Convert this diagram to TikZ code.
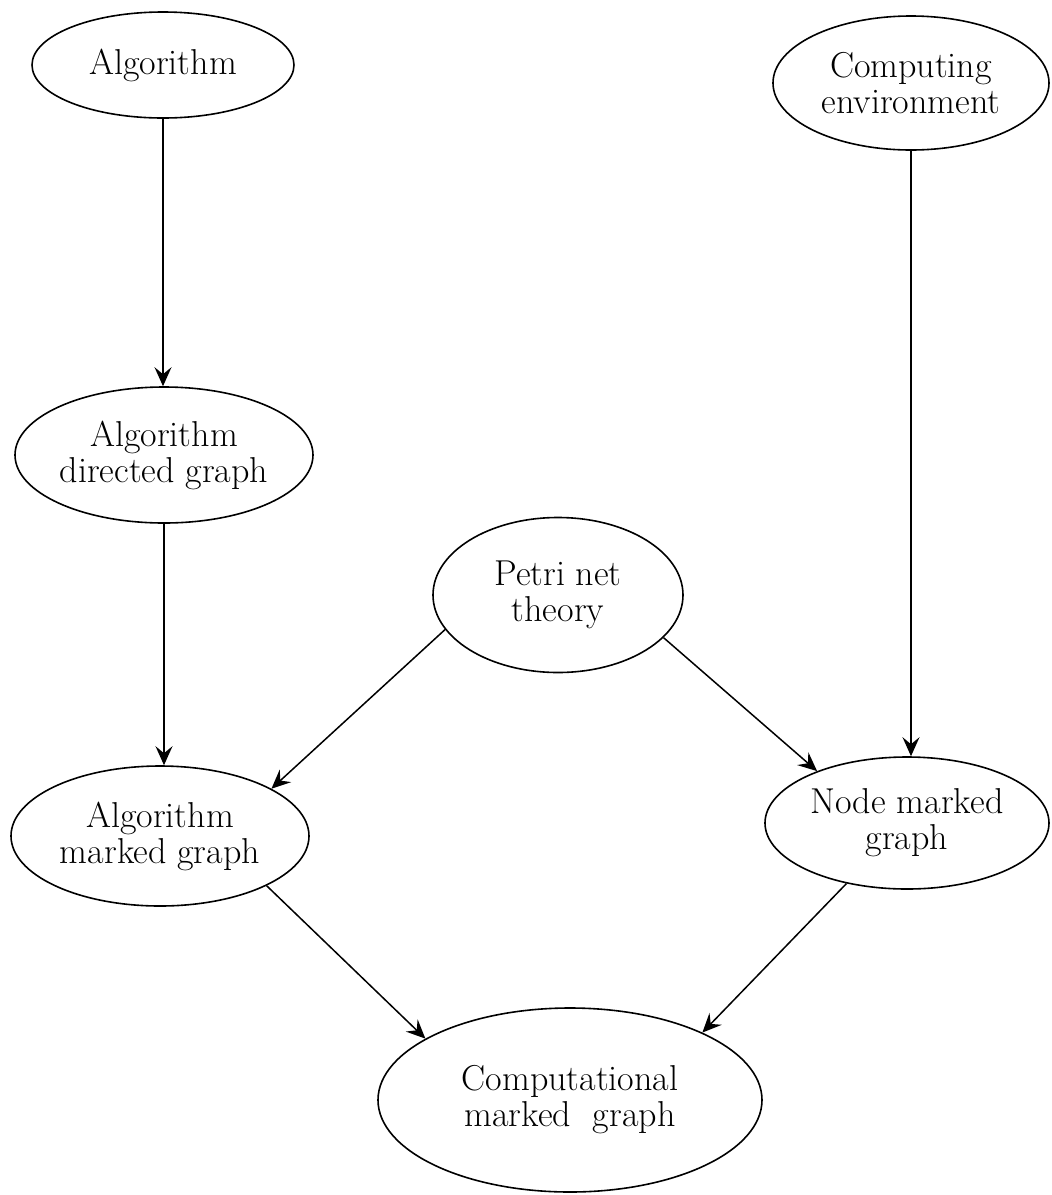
\documentclass[tikz,border=0pt]{standalone}
\usetikzlibrary{shapes.geometric,arrows.meta}
\begin{document}
\begin{tikzpicture}[x=1pt,y=-1pt,
  box/.style={ellipse,draw,line width=1.6pt,inner xsep=-8pt,inner ysep=0pt,align=center,
    font=\fontsize{36}{36}\selectfont},
  link/.style={line width=1.5pt,-{Stealth[length=19pt,width=17pt,inset=7pt]}}]
\useasboundingbox (0,0) rectangle (1052,1195);

% concepts
\node[box,minimum width=262pt,minimum height=106pt] (alg) at (163,65) {Algorithm};
\node[box,minimum width=276pt,minimum height=134pt] (env) at (911,83) {Computing\\environment};
\node[box,minimum width=298pt,minimum height=136pt] (adg) at (164,455) {Algorithm\\directed graph};
\node[box,minimum width=250pt,minimum height=155pt] (petri) at (558,595) {Petri net\\theory};
\node[box,minimum width=298pt,minimum height=140pt] (amg) at (160,836) {Algorithm\\marked graph};
\node[box,minimum width=284pt,minimum height=132pt] (nmg) at (907,823) {Node marked\\graph};
\node[box,minimum width=384pt,minimum height=184pt] (cmg) at (570,1100) {Computational\\marked\ \ graph};

% derivations
\draw[link] (alg.south) -- (alg.south |- adg.north);
\draw[link] (env.south) -- (env.south |- nmg.north);
\draw[link] (adg.south) -- (adg.south |- amg.north);
\draw[link] (petri.197) -- (amg.23);
\draw[link] (petri.338) -- (nmg.150);
\draw[link] (amg.335) -- (cmg.157);
\draw[link] (nmg.225) -- (cmg.27);
\end{tikzpicture}
\end{document}
